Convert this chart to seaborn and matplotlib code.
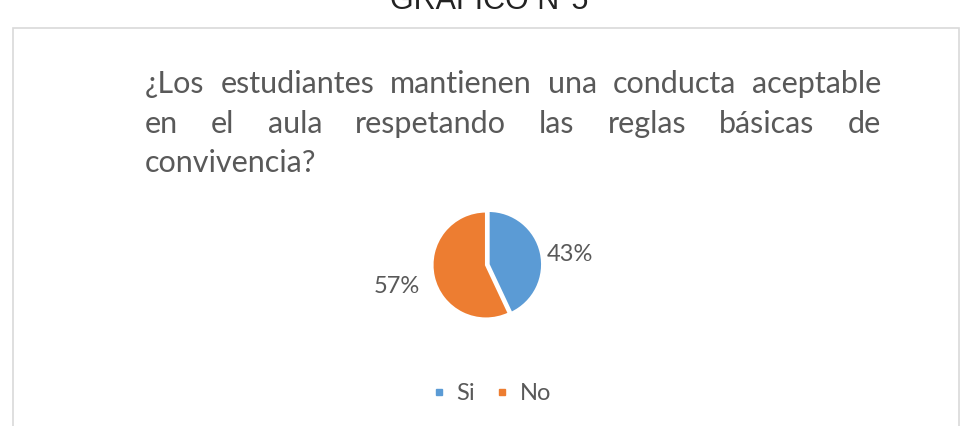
import matplotlib
matplotlib.use("Agg")
import matplotlib.pyplot as plt
import seaborn as sns
from matplotlib.lines import Line2D
from matplotlib.patches import Rectangle

sns.set_theme(style="white")
plt.rcParams['font.family'] = ['Lato', 'DejaVu Sans']

categorias = ["Si", "No"]
porcentajes = [43, 57]
colores = ["#5B9BD5", "#ED7D31"]
titulo = "GRÁFICO N°5"
pregunta = [
    "¿Los estudiantes mantienen una conducta aceptable",
    "en el aula respetando las reglas básicas de",
    "convivencia?",
]

W, H = 966, 426
gris = "#595959"

fig = plt.figure(figsize=(W / 100, H / 100), dpi=100)
fig.patch.set_facecolor("white")


def fx(px):
    return px / W


def fy(py):
    return 1 - py / H


# marco del grafico
fig.patches.append(Rectangle((fx(13), fy(470)), fx(946), 442 / H,
                             transform=fig.transFigure, fill=False,
                             edgecolor="#D9D9D9", linewidth=1.2))

# titulo cortado arriba
fig.text(fx(489), fy(9), titulo, ha="center", va="baseline", fontsize=22,
         family=["Liberation Sans", "DejaVu Sans"], color="#222222")

# pregunta justificada
renderer = fig.canvas.get_renderer()
left, right = 145, 881
baselines = [93, 133, 172]
for i, linea in enumerate(pregunta):
    palabras = linea.split()
    objs = [fig.text(0, 0, p, fontsize=22, color=gris, va="baseline")
            for p in palabras]
    anchos = [o.get_window_extent(renderer).width for o in objs]
    if i < len(pregunta) - 1 and len(palabras) > 1:
        hueco = (right - left - sum(anchos)) / (len(palabras) - 1)
    else:
        hueco = 6
    x = left
    for o, w in zip(objs, anchos):
        o.set_position((fx(x), fy(baselines[i])))
        x += w + hueco

# pastel
cx, cy, caja = 486, 265, 200
ax = fig.add_axes([fx(cx - caja / 2), fy(cy + caja / 2), fx(caja), caja / H])
wedges, _, autotexts = ax.pie(
    porcentajes, colors=colores, startangle=90, counterclock=False,
    explode=[0.05, 0], autopct="%1.0f%%", pctdistance=1.6,
    wedgeprops=dict(edgecolor="white", linewidth=1.5),
    textprops=dict(fontsize=17, color=gris))
autotexts[0].set_position((1.57, 0.2))
autotexts[1].set_position((-1.66, -0.4))
ax.set_xlim(-1.87, 1.87)
ax.set_ylim(-1.87, 1.87)
ax.set_aspect("equal")
ax.axis("off")

# leyenda
handles = [Line2D([0], [0], marker="s", linestyle="", markersize=5,
                  markerfacecolor=c, markeredgecolor=c) for c in colores]
fig.legend(handles, categorias, loc="center", bbox_to_anchor=(fx(492), fy(394)),
           ncol=2, frameon=False, fontsize=17, labelcolor=gris,
           handlelength=0.5, handletextpad=0.5, columnspacing=0.9)

fig.savefig("out.png", dpi=100, facecolor="white")
